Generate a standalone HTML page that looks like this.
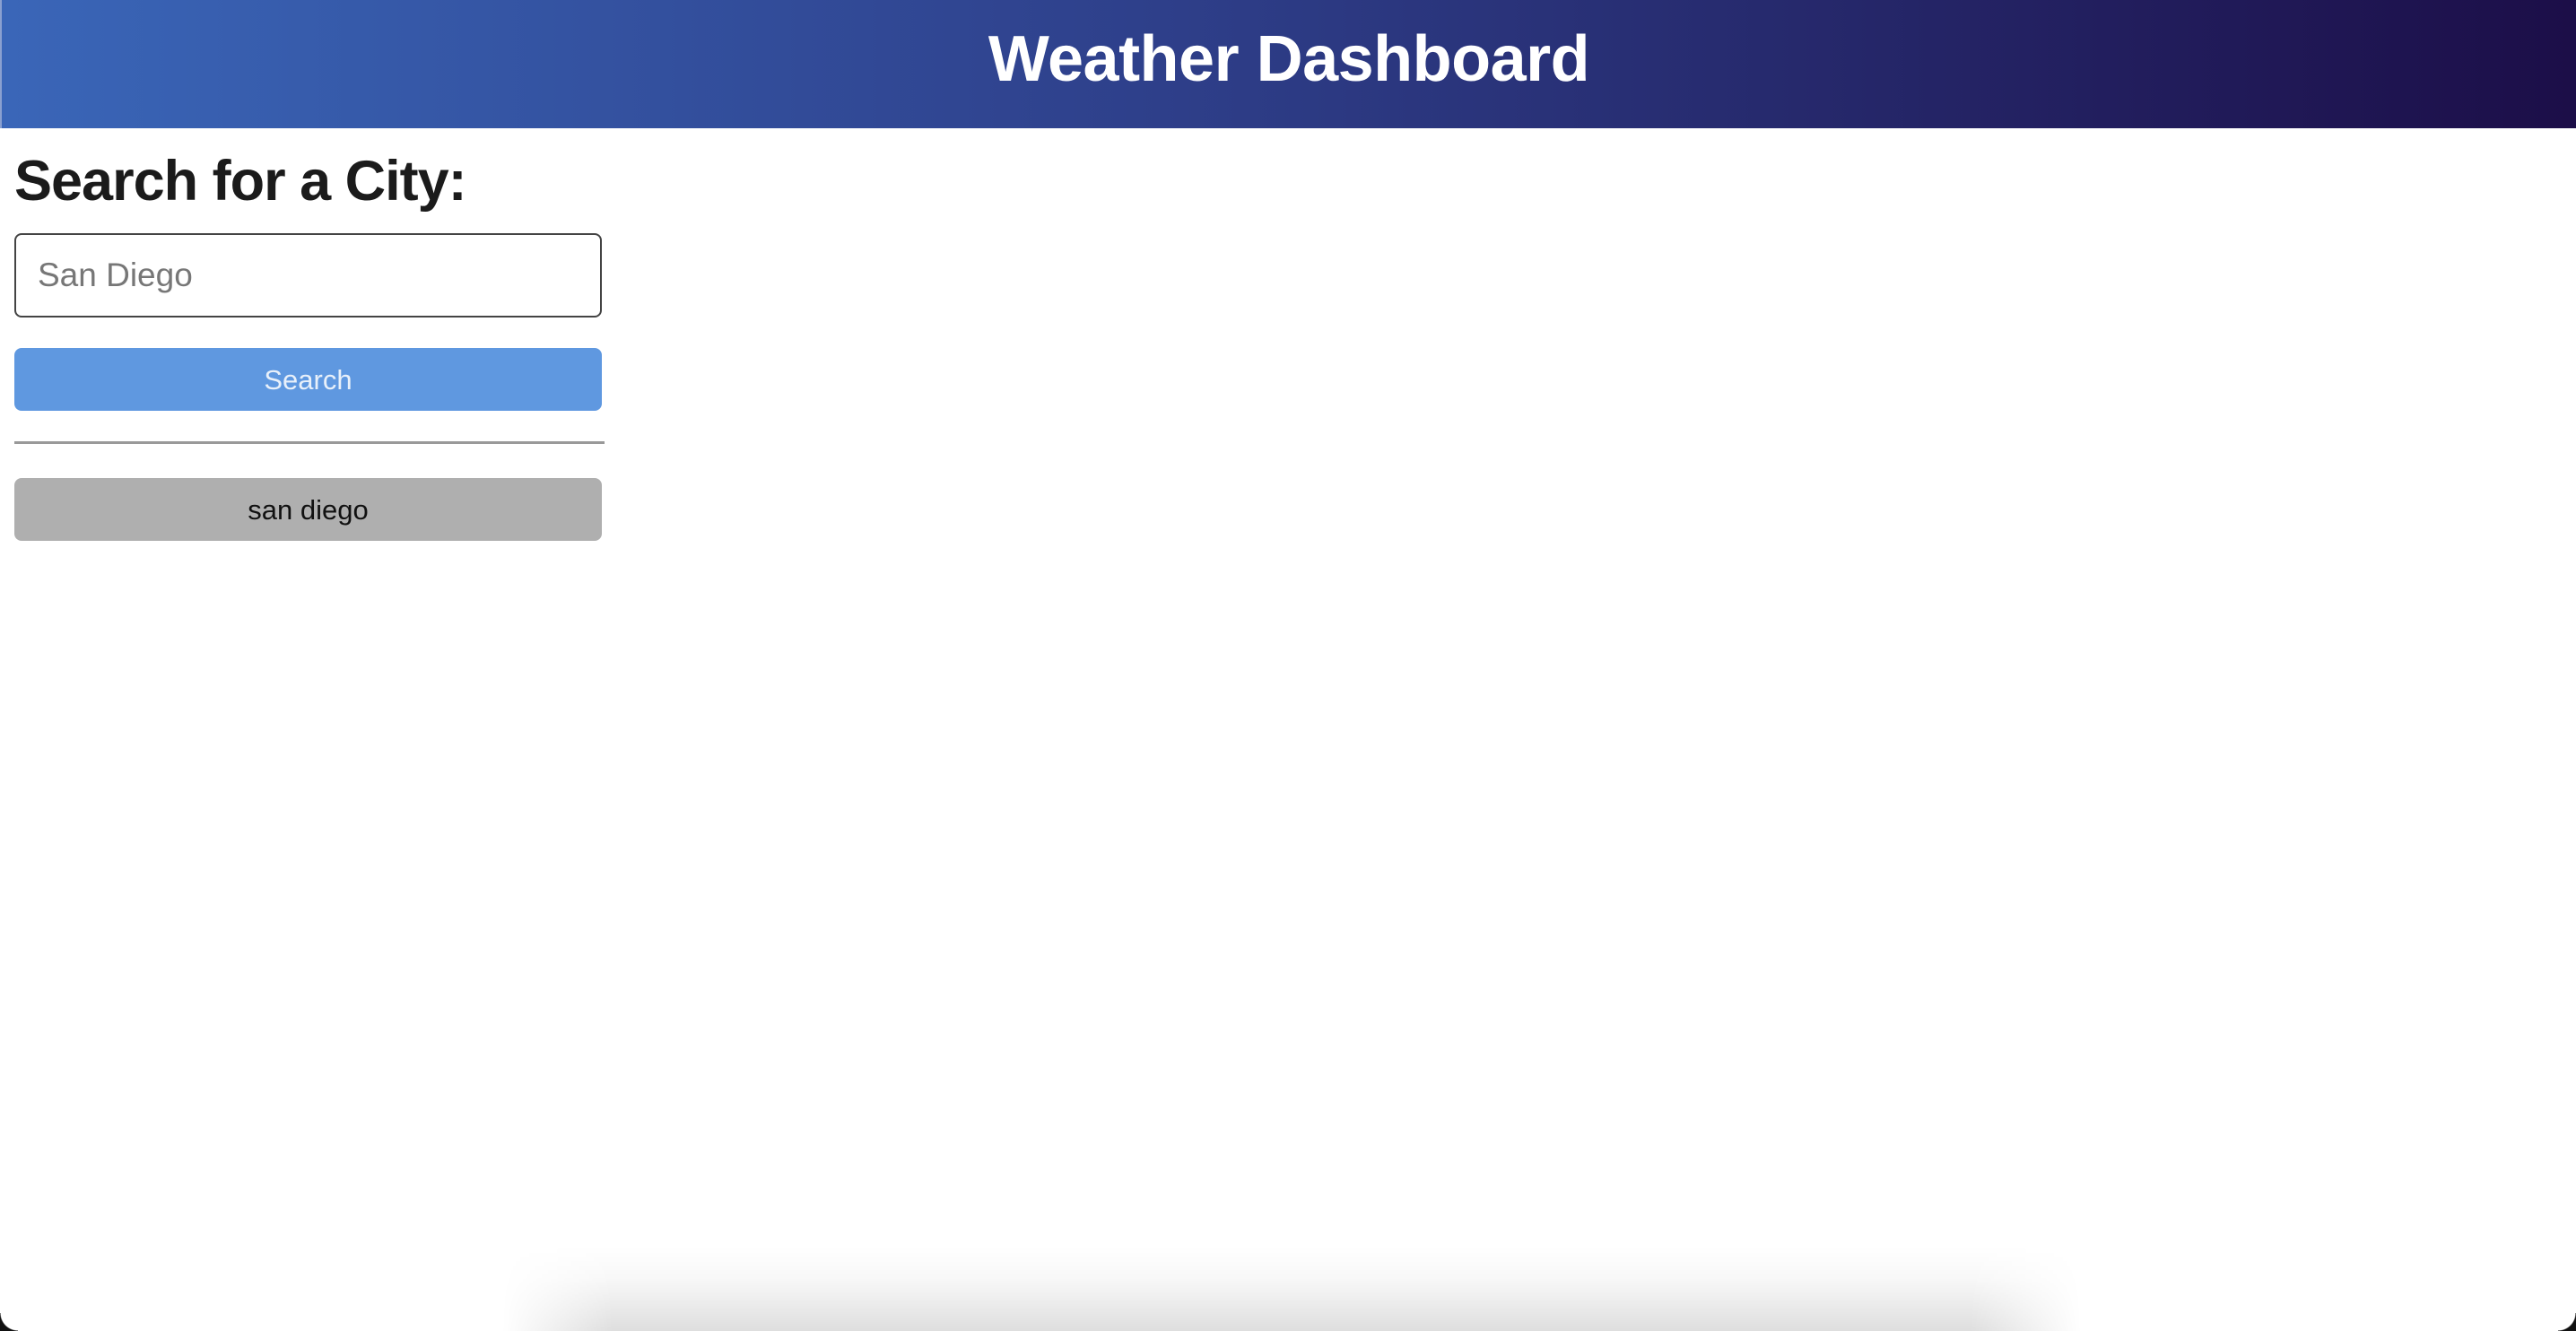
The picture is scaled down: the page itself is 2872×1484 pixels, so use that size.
<!DOCTYPE html>
<html><head><meta charset="utf-8"><style>
html,body{margin:0;padding:0;width:2872px;height:1484px;overflow:hidden;background:#fff;font-family:"Liberation Sans",sans-serif;}
#wrap{position:relative;width:2872px;height:1484px;overflow:hidden;}
#hdr{position:absolute;left:0;top:0;width:2872px;height:143px;background:linear-gradient(90deg,#3a66b8 0%,#2e3f8a 45%,#1c0e48 100%);border-left:2px solid #8aa0d0;box-sizing:border-box;}
#hdr h1{margin:0;position:absolute;left:0;right:0;top:0;height:143px;line-height:132px;text-align:center;color:#fff;font-size:72px;font-weight:bold;letter-spacing:-0.5px;}
#h2{position:absolute;left:16px;top:162px;margin:0;font-size:63px;font-weight:bold;color:#1b1b1b;letter-spacing:-1px;line-height:80px;}
#inp{position:absolute;left:16px;top:260px;width:655px;height:94px;box-sizing:border-box;border:2px solid #444;border-radius:8px;font-size:37px;color:#777;padding-left:24px;line-height:90px;}
#btn{position:absolute;left:16px;top:388px;width:655px;height:70px;background:#5f98e0;border-radius:8px;color:#e8f0fa;font-size:31px;text-align:center;line-height:72px;}
#hr{position:absolute;left:16px;top:492px;width:658px;height:3px;background:#999;}
#hist{position:absolute;left:16px;top:533px;width:655px;height:70px;background:#afafaf;border-radius:8px;color:#111;font-size:31px;text-align:center;line-height:72px;}
#shadow{position:absolute;left:560px;top:1390px;width:1760px;height:94px;background:linear-gradient(180deg,rgba(0,0,0,0) 0%,rgba(0,0,0,0.03) 40%,rgba(0,0,0,0.13) 100%);-webkit-mask-image:linear-gradient(90deg,transparent 0%,#000 7%,#000 93%,transparent 100%);mask-image:linear-gradient(90deg,transparent 0%,#000 7%,#000 93%,transparent 100%);}
.c{position:absolute;width:20px;height:20px;}
</style></head><body>
<div id="wrap">
<div id="hdr"><h1>Weather Dashboard</h1></div>
<h2 id="h2">Search for a City:</h2>
<div id="inp">San Diego</div>
<div id="btn">Search</div>
<div id="hr"></div>
<div id="hist">san diego</div>
<div id="shadow"></div>
<div class="c" style="left:0;bottom:0;background:radial-gradient(circle at 100% 0,transparent 19px,#111 20px)"></div>
<div class="c" style="right:0;bottom:0;background:radial-gradient(circle at 0 0,transparent 19px,#111 20px)"></div>
</div>
</body></html>
